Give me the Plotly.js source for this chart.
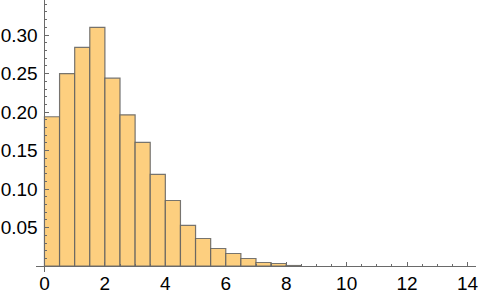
<!DOCTYPE html>
<html>
<head>
<meta charset="utf-8">
<script src="https://cdn.plot.ly/plotly-3.0.1.min.js"></script>
<style>html,body{margin:0;padding:0;background:#fff;}#chart{width:482px;height:299px;}</style>
</head>
<body>
<div id="chart"></div>
<script>
// Histogram data (probability density), bins of width 0.5 starting at 0
var binStarts = [0, 0.5, 1, 1.5, 2, 2.5, 3, 3.5, 4, 4.5, 5, 5.5, 6, 6.5, 7, 7.5, 8];
var densities = [0.194, 0.250, 0.284, 0.310, 0.244, 0.1965, 0.1606, 0.1191, 0.0853, 0.0529, 0.0360, 0.0230, 0.0165, 0.0100, 0.0048, 0.0035, 0.0009];
var binWidth = 0.5;
var xTickVals = [0, 2, 4, 6, 8, 10, 12, 14];
var yTickVals = [0.05, 0.10, 0.15, 0.20, 0.25, 0.30];
var yTickText = ["0.05", "0.10", "0.15", "0.20", "0.25", "0.30"];

var xRange = [-0.28, 14.28];
var yRange = [-0.0075, 0.3455];

var trace = {
  type: 'bar',
  x: binStarts,
  y: densities,
  width: binStarts.map(function(){ return binWidth; }),
  offset: 0,
  marker: {
    color: 'rgb(253,207,127)',
    line: { color: 'rgba(95,95,95,0.85)', width: 1.2 }
  },
  hoverinfo: 'x+y'
};

var axisColor = '#6a6a6a';
var tickFont = { family: '"Liberation Sans", Arial, sans-serif', size: 19, color: '#000' };

var layout = {
  width: 482,
  height: 299,
  margin: { l: 36, r: 6, t: 0, b: 27, pad: 0 },
  paper_bgcolor: '#fff',
  plot_bgcolor: '#fff',
  showlegend: false,
  bargap: 0,
  xaxis: {
    range: xRange,
    anchor: 'free',
    position: (0 - yRange[0]) / (yRange[1] - yRange[0]),
    showgrid: false,
    zeroline: false,
    showline: true,
    linecolor: axisColor,
    linewidth: 1,
    tickmode: 'array',
    tickvals: xTickVals,
    ticktext: xTickVals.map(String),
    ticks: 'inside',
    ticklen: 4,
    tickwidth: 1,
    tickcolor: axisColor,
    tickfont: tickFont,
    minor: { dtick: 0.5, tick0: 0, ticks: 'inside', ticklen: 2, tickwidth: 1, tickcolor: axisColor, showgrid: false },
    fixedrange: true
  },
  yaxis: {
    range: yRange,
    anchor: 'free',
    position: (0 - xRange[0]) / (xRange[1] - xRange[0]),
    showgrid: false,
    zeroline: false,
    showline: true,
    linecolor: axisColor,
    linewidth: 1,
    tickmode: 'array',
    tickvals: yTickVals,
    ticktext: yTickText,
    ticks: 'inside',
    ticklen: 4,
    tickwidth: 1,
    tickcolor: axisColor,
    tickfont: tickFont,
    ticklabelstandoff: 3,
    minor: { dtick: 0.01, tick0: 0, ticks: 'inside', ticklen: 2, tickwidth: 1, tickcolor: axisColor, showgrid: false },
    fixedrange: true
  }
};

Plotly.newPlot('chart', [trace], layout, { displayModeBar: false, staticPlot: true });
</script>
</body>
</html>
